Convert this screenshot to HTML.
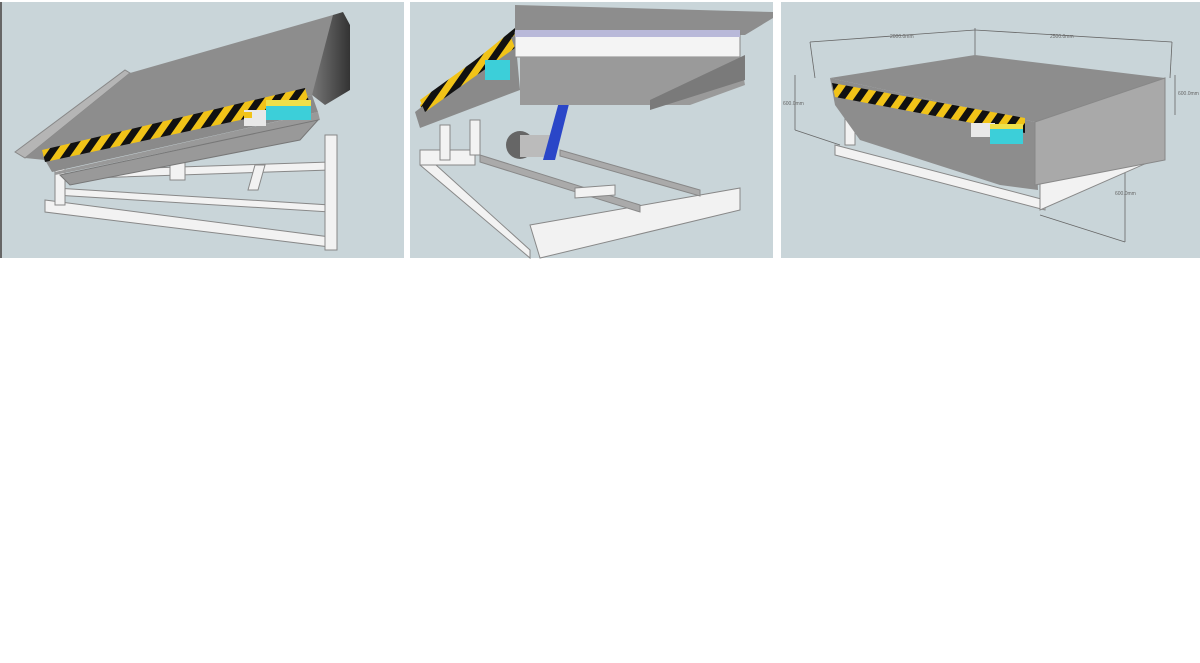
<!DOCTYPE html>
<html><head><meta charset="utf-8"><style>
html,body{margin:0;padding:0;background:#fff;width:1200px;height:663px;overflow:hidden}
svg{display:block}
</style></head><body>
<svg width="1200" height="663" viewBox="0 0 1200 663" xmlns="http://www.w3.org/2000/svg" font-family="Liberation Sans, sans-serif">
<defs>
<pattern id="hz" width="14" height="14" patternUnits="userSpaceOnUse" patternTransform="rotate(35)">
<rect width="14" height="14" fill="#f1c318"/><rect width="7" height="14" fill="#111"/></pattern>
<linearGradient id="dk" x1="0" x2="1"><stop offset="0" stop-color="#777"/><stop offset="1" stop-color="#333"/></linearGradient>
</defs>
<rect x="0" y="0" width="1200" height="663" fill="#fff"/>
<!-- panel 1 -->
<rect x="0" y="2" width="404" height="256" fill="#c9d5d9"/>
<rect x="0" y="2" width="2" height="256" fill="#666"/>
<g stroke="#888" stroke-width="1" fill="#f2f2f2">
<polygon points="45,200 330,237 330,247 45,212"/>
<polygon points="55,188 330,205 330,212 55,195"/>
<polygon points="90,170 330,162 330,170 90,178"/>
<polygon points="55,165 65,165 65,205 55,205"/>
<polygon points="325,135 337,135 337,250 325,250"/>
<polygon points="255,165 265,165 258,190 248,190"/>
<polygon points="170,155 185,155 185,180 170,180"/>
</g>
<polygon points="15,152 125,70 130,73 25,158" fill="#b5b5b5" stroke="#888"/>
<polygon points="25,158 130,73 333,15 343,20 312,95 45,160" fill="#8d8d8d"/>
<polygon points="45,160 312,95 318,112 52,172" fill="#8a8a8a"/>
<polygon points="42,150 305,88 310,105 45,162" fill="url(#hz)"/>
<polygon points="55,172 318,112 320,120 55,175" fill="#999"/>
<polygon points="60,175 318,120 300,140 70,185" fill="#999" stroke="#777"/>
<polygon points="333,15 343,12 350,25 350,90 325,105 312,95" fill="url(#dk)"/>
<rect x="244" y="110" width="22" height="16" fill="#e8e8e8"/>
<rect x="266" y="106" width="45" height="14" fill="#3ccfd9"/>
<rect x="266" y="100" width="45" height="6" fill="#eee04a"/>
<rect x="244" y="112" width="8" height="6" fill="#f1c318"/>
<!-- panel 2 -->
<rect x="410" y="2" width="363" height="256" fill="#c9d5d9"/>
<g stroke="#888" fill="#f2f2f2">
<polygon points="425,155 530,250 530,258 420,165"/>
<polygon points="530,225 740,188 740,210 540,258"/>
<polygon points="420,150 475,150 475,165 420,165"/>
<polygon points="440,125 450,125 450,160 440,160"/>
<polygon points="470,120 480,120 480,155 470,155"/>
<polygon points="480,155 640,205 640,212 480,162" fill="#aaa"/>
<polygon points="560,150 700,190 700,196 560,156" fill="#aaa"/>
<polygon points="575,188 615,185 615,195 575,198"/>
</g>
<circle cx="520" cy="145" r="14" fill="#666"/><rect x="520" y="135" width="30" height="22" fill="#bbb"/>
<polygon points="543,160 555,160 575,80 565,80" fill="#2a46c8"/>
<polygon points="600,65 635,55 637,60 602,70" fill="#2a46c8"/>
<polygon points="420,110 515,33 520,40 425,125" fill="#8f8f8f"/>
<polygon points="420,105 515,28 520,38 425,118" fill="url(#hz)"/>
<polygon points="415,112 515,35 520,90 420,128" fill="#8a8a8a"/>
<polygon points="420,100 510,35 515,48 425,112" fill="url(#hz)"/>
<rect x="485" y="60" width="25" height="20" fill="#3ccfd9"/>
<polygon points="515,5 773,12 773,18 745,35 515,35" fill="#8d8d8d"/>
<rect x="515" y="32" width="225" height="25" fill="#f4f4f4" stroke="#888"/>
<rect x="515" y="30" width="225" height="7" fill="#b9b9d9"/>
<polygon points="520,57 740,57 745,85 690,105 520,105" fill="#9a9a9a"/>
<polygon points="650,100 745,55 745,80 650,110" fill="#7a7a7a"/>
<!-- panel 3 -->
<rect x="781" y="2" width="419" height="256" fill="#c9d5d9"/>
<g stroke="#666" stroke-width="0.8" fill="none">
<line x1="810" y1="42" x2="975" y2="30"/><line x1="975" y1="30" x2="1172" y2="42"/>
<line x1="810" y1="42" x2="815" y2="78"/><line x1="975" y1="28" x2="975" y2="55"/><line x1="1172" y1="42" x2="1170" y2="78"/>
<line x1="795" y1="75" x2="795" y2="130"/><line x1="795" y1="130" x2="840" y2="145"/>
<line x1="1125" y1="140" x2="1125" y2="242"/><line x1="1040" y1="215" x2="1125" y2="242"/>
<line x1="1175" y1="75" x2="1175" y2="115"/>
</g>
<g font-size="5" fill="#666"><text x="890" y="38">2000.0mm</text><text x="1050" y="38">2500.0mm</text><text x="783" y="105">600.0mm</text><text x="1115" y="195">600.0mm</text><text x="1178" y="95">600.0mm</text></g>
<g stroke="#888" fill="#f2f2f2">
<polygon points="835,145 1045,200 1045,210 835,155"/>
<polygon points="1040,175 1165,125 1165,155 1040,210"/>
<rect x="845" y="110" width="10" height="35"/>
</g>
<polygon points="830,78 975,55 1165,78 1035,122" fill="#8d8d8d"/>
<polygon points="830,78 1035,122 1038,190 1000,185 860,140 835,105" fill="#8d8d8d"/>
<polygon points="832,83 1025,118 1025,133 835,97" fill="url(#hz)"/>
<rect x="971" y="123" width="24" height="14" fill="#e8e8e8"/>
<rect x="990" y="128" width="33" height="16" fill="#3ccfd9"/>
<rect x="990" y="124" width="33" height="5" fill="#eee04a"/>
<polygon points="1035,122 1165,78 1165,160 1035,185" fill="#a9a9a9" stroke="#888"/>
</svg>
</body></html>
